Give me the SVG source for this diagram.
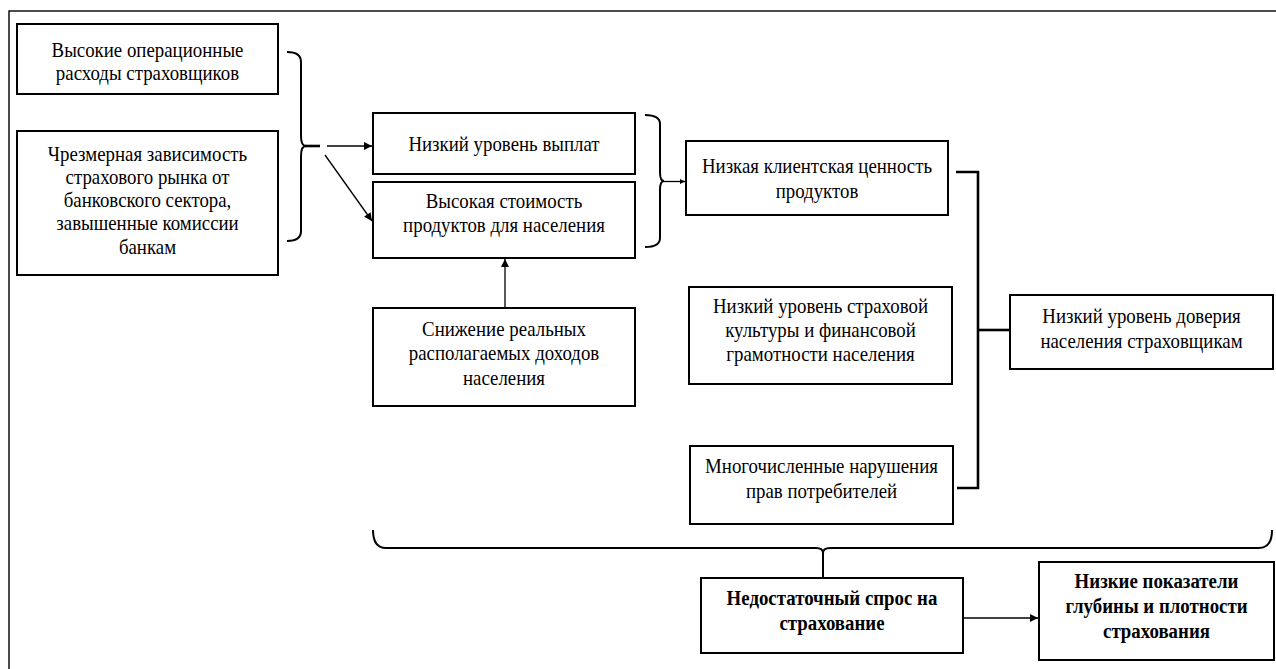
<svg xmlns="http://www.w3.org/2000/svg" width="1276" height="669" viewBox="0 0 1276 669" font-family="Liberation Serif, Times New Roman, serif">
<defs>
<style>
.box{fill:#fff;stroke:#000;stroke-width:2}
.t{font-size:20.5px;fill:#000;text-anchor:middle}
.b{font-weight:bold}
.ln{fill:none;stroke:#000;stroke-width:1.3}
.br{fill:none;stroke:#000;stroke-width:2}
.thick{fill:none;stroke:#000;stroke-width:2.6}
</style>
<marker id="ah" viewBox="0 0 10 10" refX="10" refY="5" markerWidth="9" markerHeight="8" markerUnits="userSpaceOnUse" orient="auto">
<path d="M0,0 L10,5 L0,10 z" fill="#000"/>
</marker>
<marker id="ahs" viewBox="0 0 10 10" refX="10" refY="5" markerWidth="6" markerHeight="5" markerUnits="userSpaceOnUse" orient="auto">
<path d="M0,0 L10,5 L0,10 z" fill="#000"/>
</marker>
</defs>
<rect width="1276" height="669" fill="#fff"/>
<g id="frame">
<path d="M9,669 L9,11 L1276,11" fill="none" stroke="#111" stroke-width="1.5"/>
</g>
<g id="connectors">
<path class="br" d="M287,52 Q301,52 301,62 L301,136 Q301,146 306,146 Q301,146 301,156 L301,231 Q301,241 287,241"/>
<line class="thick" x1="305" y1="146" x2="320" y2="146"/>
<line class="ln" x1="327" y1="146" x2="372" y2="146" marker-end="url(#ah)"/>
<line class="ln" x1="325" y1="155" x2="372" y2="221" marker-end="url(#ah)"/>
<line class="ln" x1="505" y1="308" x2="505" y2="259" marker-end="url(#ah)"/>
<path class="br" d="M645,115 Q660,115 660,124 L660,172 Q660,181 664,181 Q660,181 660,190 L660,238 Q660,247 645,247"/>
<line class="ln" x1="663" y1="181.5" x2="685" y2="181.5" marker-end="url(#ahs)"/>
<path class="thick" d="M956,172 L978,172 L978,488 L957,488"/>
<line class="thick" x1="978" y1="330" x2="1009" y2="330"/>
<path class="br" d="M373,530 Q373,548 386,548 L816,548 Q823,548 823,553 Q823,548 830,548 L1259,548 Q1272,548 1272,530"/>
<line class="br" x1="823" y1="551" x2="823" y2="578"/>
<line class="ln" x1="963" y1="618" x2="1038" y2="618" marker-end="url(#ah)"/>
</g>
<g id="n1">
<rect class="box" x="17" y="24" width="261" height="70"/>
<g transform="translate(147.5 0) scale(0.92 1)">
<text class="t" x="0" y="57">Высокие операционные</text>
<text class="t" x="0" y="80">расходы страховщиков</text>
</g>
</g>
<g id="n2">
<rect class="box" x="17" y="131" width="261" height="144"/>
<g transform="translate(147.5 0) scale(0.92 1)">
<text class="t" x="0" y="161">Чрезмерная зависимость</text>
<text class="t" x="0" y="184">страхового рынка от</text>
<text class="t" x="0" y="207">банковского сектора,</text>
<text class="t" x="0" y="230">завышенные комиссии</text>
<text class="t" x="0" y="254">банкам</text>
</g>
</g>
<g id="n3">
<rect class="box" x="373" y="113" width="262" height="61"/>
<g transform="translate(504 0) scale(0.92 1)">
<text class="t" x="0" y="151">Низкий уровень выплат</text>
</g>
</g>
<g id="n4">
<rect class="box" x="373" y="182" width="262" height="76"/>
<g transform="translate(504 0) scale(0.92 1)">
<text class="t" x="0" y="208">Высокая стоимость</text>
<text class="t" x="0" y="232">продуктов для населения</text>
</g>
</g>
<g id="n5">
<rect class="box" x="373" y="308" width="262" height="98"/>
<g transform="translate(504 0) scale(0.92 1)">
<text class="t" x="0" y="336">Снижение реальных</text>
<text class="t" x="0" y="360">располагаемых доходов</text>
<text class="t" x="0" y="385">населения</text>
</g>
</g>
<g id="n6">
<rect class="box" x="686" y="141" width="262" height="74"/>
<g transform="translate(817 0) scale(0.92 1)">
<text class="t" x="0" y="173">Низкая клиентская ценность</text>
<text class="t" x="0" y="198">продуктов</text>
</g>
</g>
<g id="n7">
<rect class="box" x="689" y="287" width="263" height="97"/>
<g transform="translate(820.5 0) scale(0.92 1)">
<text class="t" x="0" y="313">Низкий уровень страховой</text>
<text class="t" x="0" y="337">культуры и финансовой</text>
<text class="t" x="0" y="361">грамотности населения</text>
</g>
</g>
<g id="n8">
<rect class="box" x="690" y="446" width="263" height="78"/>
<g transform="translate(821.5 0) scale(0.92 1)">
<text class="t" x="0" y="473">Многочисленные нарушения</text>
<text class="t" x="0" y="498">прав потребителей</text>
</g>
</g>
<g id="n9">
<rect class="box" x="1010" y="295" width="263" height="74"/>
<g transform="translate(1141.5 0) scale(0.92 1)">
<text class="t" x="0" y="323">Низкий уровень доверия</text>
<text class="t" x="0" y="348">населения страховщикам</text>
</g>
</g>
<g id="n10">
<rect class="box" x="701" y="578" width="262" height="75"/>
<g transform="translate(832 0) scale(0.92 1)">
<text class="t b" x="0" y="605">Недостаточный спрос на</text>
<text class="t b" x="0" y="630">страхование</text>
</g>
</g>
<g id="n11">
<rect class="box" x="1039" y="562" width="235" height="98"/>
<g transform="translate(1156.5 0) scale(0.92 1)">
<text class="t b" x="0" y="588">Низкие показатели</text>
<text class="t b" x="0" y="613">глубины и плотности</text>
<text class="t b" x="0" y="638">страхования</text>
</g>
</g>
</svg>
